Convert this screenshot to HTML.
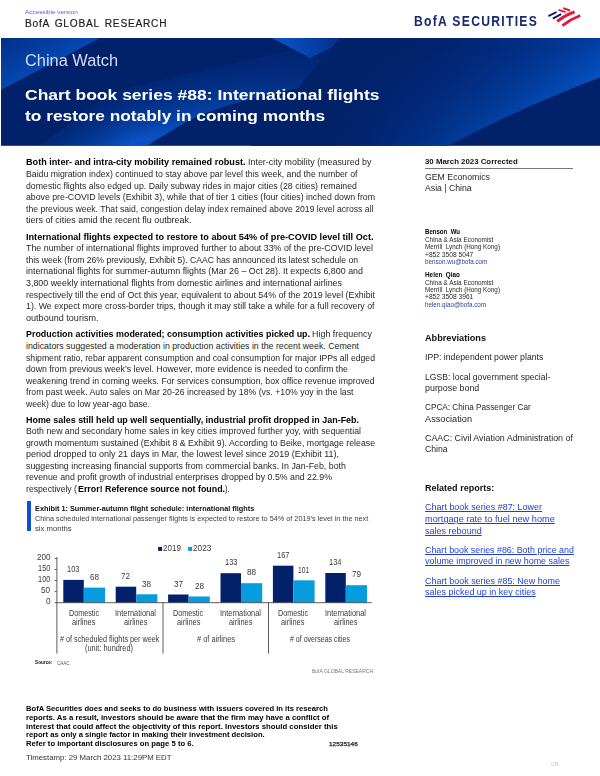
<!DOCTYPE html>
<html><head><meta charset="utf-8"><title>China Watch</title>
<style>
html,body{margin:0;padding:0;background:#fff;}
body{width:600px;height:776px;position:relative;overflow:hidden;font-family:"Liberation Sans",sans-serif;color:#231f20;}
.t{position:absolute;white-space:nowrap;line-height:1;display:block;}
.abs{position:absolute;}
</style></head><body>
<!-- banner -->
<svg class="abs" style="left:0;top:38px" width="600" height="108" viewBox="0 38 600 108">
<defs>
<linearGradient id="gA" gradientUnits="userSpaceOnUse" x1="52" y1="64" x2="26" y2="14"><stop offset="0" stop-color="#0548b2"/><stop offset="1" stop-color="#02297e"/></linearGradient>
<linearGradient id="gV" gradientUnits="userSpaceOnUse" x1="288" y1="50" x2="350" y2="34"><stop offset="0" stop-color="#0a4fc0"/><stop offset="1" stop-color="#02287c"/></linearGradient>
<linearGradient id="gB" gradientUnits="userSpaceOnUse" x1="217" y1="113" x2="196" y2="52"><stop offset="0" stop-color="#0a54c6" stop-opacity="1"/><stop offset="0.5" stop-color="#0642aa" stop-opacity="0.45"/><stop offset="1" stop-color="#0540a8" stop-opacity="0"/></linearGradient>
<linearGradient id="mB" gradientUnits="userSpaceOnUse" x1="40" y1="0" x2="345" y2="0"><stop offset="0" stop-color="#fff" stop-opacity="0.4"/><stop offset="0.3" stop-color="#fff" stop-opacity="1"/><stop offset="0.55" stop-color="#fff" stop-opacity="0.7"/><stop offset="1" stop-color="#fff" stop-opacity="0.05"/></linearGradient>
<mask id="mkB" maskUnits="userSpaceOnUse" x="0" y="38" width="600" height="108"><rect x="0" y="38" width="600" height="108" fill="url(#mB)"/></mask>
<linearGradient id="gR" gradientUnits="userSpaceOnUse" x1="524" y1="108" x2="476" y2="2"><stop offset="0" stop-color="#0450bf" stop-opacity="1"/><stop offset="0.3" stop-color="#0443ad" stop-opacity="0.8"/><stop offset="0.7" stop-color="#03389a" stop-opacity="0.4"/><stop offset="1" stop-color="#012169" stop-opacity="0"/></linearGradient>
<linearGradient id="gR2" gradientUnits="userSpaceOnUse" x1="330" y1="0" x2="600" y2="0"><stop offset="0" stop-color="#012169" stop-opacity="1"/><stop offset="0.5" stop-color="#012169" stop-opacity="0.45"/><stop offset="1" stop-color="#012169" stop-opacity="0"/></linearGradient>
</defs>
<rect x="1" y="38" width="599" height="107.8" fill="#01226b"/>
<polygon points="1,38 100,38 1,90" fill="url(#gA)"/>
<path d="M40,145.8 L147,145.8 L186,122 Q225,102 310,86 L345,72 L300,48 L110,92 Z" fill="url(#gB)" mask="url(#mkB)"/>
<polygon points="272,38 352,38 310,58" fill="url(#gV)"/>
<path d="M250,145.8 L448,145.8 Q524,106 600,77.5 L600,38 L340,38 Z" fill="url(#gR)"/>
<path d="M250,145.8 L448,145.8 Q524,106 600,77.5 L600,38 L340,38 Z" fill="url(#gR2)"/>
</svg>
<!-- logo flag -->
<svg class="abs" style="left:540px;top:0" width="48" height="36" viewBox="540 0 48 36">
<g stroke-linecap="butt" fill="none">
<path d="M548.4,16.1 L556.6,12.0" stroke="#012169" stroke-width="1.9"/>
<path d="M552.8,18.7 L561.2,14.1" stroke="#012169" stroke-width="1.9"/>
<path d="M558.6,9.8 L565.6,12.1" stroke="#e31837" stroke-width="1.9"/>
<path d="M563.2,8.2 L570.0,10.5" stroke="#e31837" stroke-width="1.9"/>
<path d="M557.2,21.3 Q565,15.2 574.6,11.9" stroke="#e31837" stroke-width="2.8"/>
<path d="M562.4,25.7 Q570.5,19.2 580.2,15.5" stroke="#e31837" stroke-width="2.8"/>
</g></svg>
<!-- sidebar rule -->
<div class="abs" style="left:425px;top:167.8px;width:148px;height:1.2px;background:#77787c"></div>
<!-- exhibit bar -->
<div class="abs" style="left:27.2px;top:500.8px;width:3.8px;height:30.4px;background:#0b50d6"></div>
<!-- chart -->
<svg class="abs" style="left:0;top:540px" width="400" height="120" viewBox="0 540 400 120">
<rect x="158.1" y="546.9" width="4" height="4" fill="#03206a"/>
<rect x="188.1" y="546.9" width="4" height="4" fill="#069cde"/>
<rect x="63.3" y="579.9" width="20.5" height="22.8" fill="#03206a"/>
<rect x="83.8" y="587.6" width="21.2" height="15.1" fill="#069cde"/>
<rect x="115.7" y="586.7" width="20.5" height="16.0" fill="#03206a"/>
<rect x="136.2" y="594.3" width="21.2" height="8.4" fill="#069cde"/>
<rect x="168.1" y="594.5" width="20.5" height="8.2" fill="#03206a"/>
<rect x="188.6" y="596.5" width="21.2" height="6.2" fill="#069cde"/>
<rect x="220.5" y="573.2" width="20.5" height="29.5" fill="#03206a"/>
<rect x="241.0" y="583.2" width="21.2" height="19.5" fill="#069cde"/>
<rect x="272.9" y="565.7" width="20.5" height="37.0" fill="#03206a"/>
<rect x="293.4" y="580.3" width="21.2" height="22.4" fill="#069cde"/>
<rect x="325.3" y="573.0" width="20.5" height="29.7" fill="#03206a"/>
<rect x="345.8" y="585.2" width="21.2" height="17.5" fill="#069cde"/>
<g stroke="#4a4a4a" stroke-width="0.9" fill="none">
<path d="M56.9,557 V653.6 M56.9,602.7 H371.7 M163,602.7 V653.6 M268.5,602.7 V653.6"/>
<path d="M54.6,558.4 H56.9 M54.6,569.5 H56.9 M54.6,580.5 H56.9 M54.6,591.6 H56.9 M54.6,602.7 H56.9"/>
</g>
</svg>
<span class="t" style="left:25.20px;transform-origin:0 0;top:8.92px;font-size:6.0px;color:#5a5af0;transform:scaleX(1.0626);">Accessible version</span>
<span class="t" style="left:25.00px;transform-origin:0 0;top:18.54px;font-size:10px;color:#222;transform:scaleX(1.0156);letter-spacing:0.75px;word-spacing:1.6px;-webkit-text-stroke:0.2px #222;">BofA GLOBAL RESEARCH</span>
<span class="t" style="left:413.70px;transform-origin:0 0;top:13.78px;font-size:14.2px;font-weight:700;color:#172a6e;transform:scaleX(0.8562);letter-spacing:1.5px;">BofA SECURITIES</span>
<span class="t" style="left:25.40px;transform-origin:0 0;top:53.09px;font-size:15.6px;color:#d5dcf2;transform:scaleX(1.0496);">China Watch</span>
<span class="t" style="left:25.40px;transform-origin:0 0;top:86.66px;font-size:15.4px;font-weight:700;color:#fff;transform:scaleX(1.1359);">Chart book series #88: International flights</span>
<span class="t" style="left:25.40px;transform-origin:0 0;top:107.66px;font-size:15.4px;font-weight:700;color:#fff;transform:scaleX(1.1252);">to restore notably in coming months</span>
<span class="t" style="left:26.00px;transform-origin:0 0;top:158.45px;font-size:8.8px;font-weight:700;color:#000;transform:scaleX(1.0348);">Both inter- and intra-city mobility remained robust.</span>
<span class="t" style="left:248.00px;transform-origin:0 0;top:158.45px;font-size:8.8px;transform:scaleX(1.0105);">Inter-city mobility (measured by</span>
<span class="t" style="left:26.00px;transform-origin:0 0;top:170.05px;font-size:8.8px;transform:scaleX(0.9925);">Baidu migration index) continued to stay above par level this week, and the number of</span>
<span class="t" style="left:26.00px;transform-origin:0 0;top:181.65px;font-size:8.8px;transform:scaleX(0.9955);">domestic flights also edged up. Daily subway rides in major cities (28 cities) remained</span>
<span class="t" style="left:26.00px;transform-origin:0 0;top:193.25px;font-size:8.8px;transform:scaleX(0.9942);">above pre-COVID levels (Exhibit 3), while that of tier 1 cities (four cities) inched down from</span>
<span class="t" style="left:26.00px;transform-origin:0 0;top:204.85px;font-size:8.8px;transform:scaleX(0.9819);">the previous week. That said, congestion delay index remained above 2019 level across all</span>
<span class="t" style="left:26.00px;transform-origin:0 0;top:216.45px;font-size:8.8px;transform:scaleX(1.0164);">tiers of cities amid the recent flu outbreak.</span>
<span class="t" style="left:26.00px;transform-origin:0 0;top:232.65px;font-size:8.8px;font-weight:700;color:#000;transform:scaleX(1.0393);">International flights expected to restore to about 54% of pre-COVID level till Oct.</span>
<span class="t" style="left:26.00px;transform-origin:0 0;top:244.25px;font-size:8.8px;transform:scaleX(1.0066);">The number of international flights improved further to about 33% of the pre-COVID level</span>
<span class="t" style="left:26.00px;transform-origin:0 0;top:255.85px;font-size:8.8px;transform:scaleX(0.9788);">this week (from 26% previously, Exhibit 5). CAAC has announced its latest schedule on</span>
<span class="t" style="left:26.00px;transform-origin:0 0;top:267.45px;font-size:8.8px;transform:scaleX(1.0106);">international flights for summer-autumn flights (Mar 26 &ndash; Oct 28). It expects 6,800 and</span>
<span class="t" style="left:26.00px;transform-origin:0 0;top:279.05px;font-size:8.8px;transform:scaleX(1.0097);">3,800 weekly international flights from domestic airlines and international airlines</span>
<span class="t" style="left:26.00px;transform-origin:0 0;top:290.65px;font-size:8.8px;transform:scaleX(1.0024);">respectively till the end of Oct this year, equivalent to about 54% of the 2019 level (Exhibit</span>
<span class="t" style="left:26.00px;transform-origin:0 0;top:302.25px;font-size:8.8px;transform:scaleX(0.9988);">1). We expect more cross-border trips, though it may still take a while for a full recovery of</span>
<span class="t" style="left:26.00px;transform-origin:0 0;top:313.85px;font-size:8.8px;transform:scaleX(1.0295);">outbound tourism.</span>
<span class="t" style="left:26.00px;transform-origin:0 0;top:330.45px;font-size:8.8px;font-weight:700;color:#000;transform:scaleX(1.0122);">Production activities moderated; consumption activities picked up.</span>
<span class="t" style="left:312.00px;transform-origin:0 0;top:330.45px;font-size:8.8px;transform:scaleX(1.0140);">High frequency</span>
<span class="t" style="left:26.00px;transform-origin:0 0;top:342.05px;font-size:8.8px;">indicators suggested a moderation in production activities in the recent week. Cement</span>
<span class="t" style="left:26.00px;transform-origin:0 0;top:353.65px;font-size:8.8px;transform:scaleX(0.9844);">shipment ratio, rebar apparent consumption and coal consumption for major IPPs all edged</span>
<span class="t" style="left:26.00px;transform-origin:0 0;top:365.25px;font-size:8.8px;transform:scaleX(0.9922);">down from previous week&rsquo;s level. However, more evidence is needed to confirm the</span>
<span class="t" style="left:26.00px;transform-origin:0 0;top:376.85px;font-size:8.8px;transform:scaleX(0.9890);">weakening trend in coming weeks. For services consumption, box office revenue improved</span>
<span class="t" style="left:26.00px;transform-origin:0 0;top:388.45px;font-size:8.8px;transform:scaleX(0.9915);">from past week. Auto sales on Mar 20-26 increased by 18% (vs. +10% yoy in the last</span>
<span class="t" style="left:26.00px;transform-origin:0 0;top:400.05px;font-size:8.8px;transform:scaleX(0.9753);">week) due to low year-ago base.</span>
<span class="t" style="left:26.00px;transform-origin:0 0;top:415.95px;font-size:8.8px;font-weight:700;color:#000;transform:scaleX(1.0158);">Home sales still held up well sequentially, industrial profit dropped in Jan-Feb.</span>
<span class="t" style="left:26.00px;transform-origin:0 0;top:427.45px;font-size:8.8px;transform:scaleX(0.9934);">Both new and secondary home sales in key cities improved further yoy, with sequential</span>
<span class="t" style="left:26.00px;transform-origin:0 0;top:438.95px;font-size:8.8px;transform:scaleX(0.9955);">growth momentum sustained (Exhibit 8 &amp; Exhibit 9). According to Beike, mortgage release</span>
<span class="t" style="left:26.00px;transform-origin:0 0;top:450.45px;font-size:8.8px;transform:scaleX(1.0230);">period dropped to only 21 days in Mar, the lowest level since 2019 (Exhibit 11),</span>
<span class="t" style="left:26.00px;transform-origin:0 0;top:461.95px;font-size:8.8px;transform:scaleX(1.0053);">suggesting increasing financial supports from commercial banks. In Jan-Feb, both</span>
<span class="t" style="left:26.00px;transform-origin:0 0;top:473.45px;font-size:8.8px;transform:scaleX(0.9980);">revenue and profit growth of industrial enterprises dropped by 0.5% and 22.9%</span>
<span class="t" style="left:26.00px;transform-origin:0 0;top:484.95px;font-size:8.8px;transform:scaleX(0.9840);">respectively (</span>
<span class="t" style="left:77.50px;transform-origin:0 0;top:484.95px;font-size:8.8px;font-weight:700;color:#000;transform:scaleX(1.0058);">Error! Reference source not found.</span>
<span class="t" style="left:224.80px;transform-origin:0 0;top:484.95px;font-size:8.8px;transform:scaleX(0.8744);">).</span>
<span class="t" style="left:425.00px;transform-origin:0 0;top:157.53px;font-size:8.0px;font-weight:700;color:#111;transform:scaleX(0.9787);">30 March 2023 Corrected</span>
<span class="t" style="left:425.00px;transform-origin:0 0;top:172.55px;font-size:8.8px;transform:scaleX(0.9921);">GEM Economics</span>
<span class="t" style="left:425.00px;transform-origin:0 0;top:183.75px;font-size:8.8px;transform:scaleX(0.9877);">Asia | China</span>
<span class="t" style="left:425.00px;transform-origin:0 0;top:229.28px;font-size:6.4px;font-weight:700;color:#000;transform:scaleX(0.9508);">Benson&nbsp; Wu</span>
<span class="t" style="left:425.00px;transform-origin:0 0;top:236.78px;font-size:6.4px;transform:scaleX(1.0014);">China &amp; Asia Economist</span>
<span class="t" style="left:425.00px;transform-origin:0 0;top:244.28px;font-size:6.4px;transform:scaleX(0.9897);">Merrill&nbsp; Lynch (Hong Kong)</span>
<span class="t" style="left:425.00px;transform-origin:0 0;top:251.58px;font-size:6.4px;transform:scaleX(1.0412);">+852 3508 5047</span>
<span class="t" style="left:425.00px;transform-origin:0 0;top:258.88px;font-size:6.4px;color:#2a3f9a;transform:scaleX(0.9782);">benson.wu@bofa.com</span>
<span class="t" style="left:425.00px;transform-origin:0 0;top:272.28px;font-size:6.4px;font-weight:700;color:#000;transform:scaleX(0.9951);">Helen&nbsp; Qiao</span>
<span class="t" style="left:425.00px;transform-origin:0 0;top:279.58px;font-size:6.4px;transform:scaleX(1.0014);">China &amp; Asia Economist</span>
<span class="t" style="left:425.00px;transform-origin:0 0;top:287.08px;font-size:6.4px;transform:scaleX(0.9897);">Merrill&nbsp; Lynch (Hong Kong)</span>
<span class="t" style="left:425.00px;transform-origin:0 0;top:294.38px;font-size:6.4px;transform:scaleX(1.0412);">+852 3508 3961</span>
<span class="t" style="left:425.00px;transform-origin:0 0;top:301.58px;font-size:6.4px;color:#2a3f9a;transform:scaleX(0.9794);">helen.qiao@bofa.com</span>
<span class="t" style="left:425.00px;transform-origin:0 0;top:334.11px;font-size:9.2px;font-weight:700;color:#111;transform:scaleX(0.9957);">Abbreviations</span>
<span class="t" style="left:425.00px;transform-origin:0 0;top:353.22px;font-size:8.6px;transform:scaleX(1.0106);">IPP: independent power plants</span>
<span class="t" style="left:425.00px;transform-origin:0 0;top:372.62px;font-size:8.6px;transform:scaleX(1.0011);">LGSB: local government special-</span>
<span class="t" style="left:425.00px;transform-origin:0 0;top:384.12px;font-size:8.6px;transform:scaleX(1.0331);">purpose bond</span>
<span class="t" style="left:425.00px;transform-origin:0 0;top:403.22px;font-size:8.6px;transform:scaleX(0.9548);">CPCA: China Passenger Car</span>
<span class="t" style="left:425.00px;transform-origin:0 0;top:414.72px;font-size:8.6px;transform:scaleX(1.0693);">Association</span>
<span class="t" style="left:425.00px;transform-origin:0 0;top:433.92px;font-size:8.6px;transform:scaleX(1.0332);">CAAC: Civil Aviation Administration of</span>
<span class="t" style="left:425.00px;transform-origin:0 0;top:445.42px;font-size:8.6px;transform:scaleX(1.0103);">China</span>
<span class="t" style="left:425.00px;transform-origin:0 0;top:484.25px;font-size:8.8px;font-weight:700;color:#111;transform:scaleX(1.0271);">Related reports:</span>
<span class="t" style="left:425.00px;transform-origin:0 0;top:503.42px;font-size:8.6px;color:#1f3fd6;transform:scaleX(1.0422);text-decoration:underline;">Chart book series #87: Lower</span>
<span class="t" style="left:425.00px;transform-origin:0 0;top:515.02px;font-size:8.6px;color:#1f3fd6;transform:scaleX(1.0697);text-decoration:underline;">mortgage rate to fuel new home</span>
<span class="t" style="left:425.00px;transform-origin:0 0;top:526.52px;font-size:8.6px;color:#1f3fd6;transform:scaleX(1.0500);text-decoration:underline;">sales rebound</span>
<span class="t" style="left:425.00px;transform-origin:0 0;top:545.92px;font-size:8.6px;color:#1f3fd6;transform:scaleX(1.0320);text-decoration:underline;">Chart book series #86: Both price and</span>
<span class="t" style="left:425.00px;transform-origin:0 0;top:557.42px;font-size:8.6px;color:#1f3fd6;transform:scaleX(1.0388);text-decoration:underline;">volume improved in new home sales</span>
<span class="t" style="left:425.00px;transform-origin:0 0;top:576.92px;font-size:8.6px;color:#1f3fd6;transform:scaleX(1.0390);text-decoration:underline;">Chart book series #85: New home</span>
<span class="t" style="left:425.00px;transform-origin:0 0;top:588.42px;font-size:8.6px;color:#1f3fd6;transform:scaleX(1.0439);text-decoration:underline;">sales picked up in key cities</span>
<span class="t" style="left:35.00px;transform-origin:0 0;top:504.74px;font-size:7.4px;font-weight:700;color:#111;transform:scaleX(0.9908);">Exhibit 1: Summer-autumn flight schedule: international flights</span>
<span class="t" style="left:35.00px;transform-origin:0 0;top:514.91px;font-size:7.2px;color:#3a3a44;transform:scaleX(1.0127);">China scheduled international passenger flights is expected to restore to 54% of 2019&rsquo;s level in the next</span>
<span class="t" style="left:35.00px;transform-origin:0 0;top:524.61px;font-size:7.2px;color:#3a3a44;transform:scaleX(1.0681);">six months</span>
<span class="t" style="left:163.30px;transform-origin:0 0;top:543.93px;font-size:9.3px;color:#3a3a3a;transform:scaleX(0.8653);">2019</span>
<span class="t" style="left:193.40px;transform-origin:0 0;top:543.93px;font-size:9.3px;color:#3a3a3a;transform:scaleX(0.8894);">2023</span>
<span class="t" style="left:36.55px;transform-origin:0 0;top:553.03px;font-size:9.3px;color:#3a3a3a;transform:scaleX(0.8798);">200</span>
<span class="t" style="left:37.80px;transform-origin:0 0;top:564.13px;font-size:9.3px;color:#3a3a3a;transform:scaleX(0.7992);">150</span>
<span class="t" style="left:37.80px;transform-origin:0 0;top:575.23px;font-size:9.3px;color:#3a3a3a;transform:scaleX(0.7992);">100</span>
<span class="t" style="left:41.10px;transform-origin:0 0;top:586.33px;font-size:9.3px;color:#3a3a3a;transform:scaleX(0.8798);">50</span>
<span class="t" style="left:45.65px;transform-origin:0 0;top:597.33px;font-size:9.3px;color:#3a3a3a;transform:scaleX(0.8798);">0</span>
<span class="t" style="left:67.40px;transform-origin:0 0;top:565.09px;font-size:9.3px;color:#3a3a3a;transform:scaleX(0.7992);">103</span>
<span class="t" style="left:89.75px;transform-origin:0 0;top:572.85px;font-size:9.3px;color:#3a3a3a;transform:scaleX(0.8798);">68</span>
<span class="t" style="left:68.50px;transform-origin:0 0;top:608.55px;font-size:8.8px;color:#3a3a3a;transform:scaleX(0.8181);">Domestic</span>
<span class="t" style="left:71.80px;transform-origin:0 0;top:618.25px;font-size:8.8px;color:#3a3a3a;transform:scaleX(0.8395);">airlines</span>
<span class="t" style="left:121.45px;transform-origin:0 0;top:571.97px;font-size:9.3px;color:#3a3a3a;transform:scaleX(0.8798);">72</span>
<span class="t" style="left:142.15px;transform-origin:0 0;top:579.50px;font-size:9.3px;color:#3a3a3a;transform:scaleX(0.8798);">38</span>
<span class="t" style="left:115.40px;transform-origin:0 0;top:608.55px;font-size:8.8px;color:#3a3a3a;transform:scaleX(0.8467);">International</span>
<span class="t" style="left:124.20px;transform-origin:0 0;top:618.25px;font-size:8.8px;color:#3a3a3a;transform:scaleX(0.8395);">airlines</span>
<span class="t" style="left:173.85px;transform-origin:0 0;top:579.72px;font-size:9.3px;color:#3a3a3a;transform:scaleX(0.8798);">37</span>
<span class="t" style="left:194.55px;transform-origin:0 0;top:581.72px;font-size:9.3px;color:#3a3a3a;transform:scaleX(0.8798);">28</span>
<span class="t" style="left:173.30px;transform-origin:0 0;top:608.55px;font-size:8.8px;color:#3a3a3a;transform:scaleX(0.8181);">Domestic</span>
<span class="t" style="left:176.60px;transform-origin:0 0;top:618.25px;font-size:8.8px;color:#3a3a3a;transform:scaleX(0.8395);">airlines</span>
<span class="t" style="left:224.60px;transform-origin:0 0;top:558.44px;font-size:9.3px;color:#3a3a3a;transform:scaleX(0.7992);">133</span>
<span class="t" style="left:246.95px;transform-origin:0 0;top:568.42px;font-size:9.3px;color:#3a3a3a;transform:scaleX(0.8798);">88</span>
<span class="t" style="left:220.20px;transform-origin:0 0;top:608.55px;font-size:8.8px;color:#3a3a3a;transform:scaleX(0.8467);">International</span>
<span class="t" style="left:229.00px;transform-origin:0 0;top:618.25px;font-size:8.8px;color:#3a3a3a;transform:scaleX(0.8395);">airlines</span>
<span class="t" style="left:277.00px;transform-origin:0 0;top:550.90px;font-size:9.3px;color:#3a3a3a;transform:scaleX(0.7992);">167</span>
<span class="t" style="left:298.32px;transform-origin:0 0;top:565.54px;font-size:9.3px;color:#3a3a3a;transform:scaleX(0.7186);">101</span>
<span class="t" style="left:278.10px;transform-origin:0 0;top:608.55px;font-size:8.8px;color:#3a3a3a;transform:scaleX(0.8181);">Domestic</span>
<span class="t" style="left:281.40px;transform-origin:0 0;top:618.25px;font-size:8.8px;color:#3a3a3a;transform:scaleX(0.8395);">airlines</span>
<span class="t" style="left:329.40px;transform-origin:0 0;top:558.22px;font-size:9.3px;color:#3a3a3a;transform:scaleX(0.7992);">134</span>
<span class="t" style="left:351.75px;transform-origin:0 0;top:570.41px;font-size:9.3px;color:#3a3a3a;transform:scaleX(0.8798);">79</span>
<span class="t" style="left:325.00px;transform-origin:0 0;top:608.55px;font-size:8.8px;color:#3a3a3a;transform:scaleX(0.8467);">International</span>
<span class="t" style="left:333.80px;transform-origin:0 0;top:618.25px;font-size:8.8px;color:#3a3a3a;transform:scaleX(0.8395);">airlines</span>
<span class="t" style="left:60.00px;transform-origin:0 0;top:634.55px;font-size:8.8px;color:#3a3a3a;transform:scaleX(0.8229);"># of scheduled flights per week</span>
<span class="t" style="left:85.00px;transform-origin:0 0;top:643.75px;font-size:8.8px;color:#3a3a3a;transform:scaleX(0.8389);">(unit: hundred)</span>
<span class="t" style="left:196.50px;transform-origin:0 0;top:634.55px;font-size:8.8px;color:#3a3a3a;transform:scaleX(0.8444);"># of airlines</span>
<span class="t" style="left:290.00px;transform-origin:0 0;top:634.55px;font-size:8.8px;color:#3a3a3a;transform:scaleX(0.7967);"># of overseas cities</span>
<span class="t" style="left:35.00px;transform-origin:0 0;top:659.76px;font-size:5.6px;font-weight:700;color:#111;transform:scaleX(0.8402);">Source:</span>
<span class="t" style="left:57.00px;transform-origin:0 0;top:659.52px;font-size:6px;color:#555;transform:scaleX(0.7438);">CAAC</span>
<span class="t" style="left:311.70px;transform-origin:0 0;top:668.86px;font-size:5.6px;color:#777;transform:scaleX(0.8946);">BofA GLOBAL RESEARCH</span>
<span class="t" style="left:25.80px;transform-origin:0 0;top:705.07px;font-size:7.6px;font-weight:700;color:#000;transform:scaleX(1.0011);">BofA Securities does and seeks to do business with issuers covered in its research</span>
<span class="t" style="left:25.80px;transform-origin:0 0;top:713.87px;font-size:7.6px;font-weight:700;color:#000;transform:scaleX(1.0244);">reports. As a result, investors should be aware that the firm may have a conflict of</span>
<span class="t" style="left:25.80px;transform-origin:0 0;top:722.67px;font-size:7.6px;font-weight:700;color:#000;transform:scaleX(1.0232);">interest that could affect the objectivity of this report. Investors should consider this</span>
<span class="t" style="left:25.80px;transform-origin:0 0;top:731.47px;font-size:7.6px;font-weight:700;color:#000;transform:scaleX(1.0065);">report as only a single factor in making their investment decision.</span>
<span class="t" style="left:25.80px;transform-origin:0 0;top:740.27px;font-size:7.6px;font-weight:700;color:#000;transform:scaleX(1.0139);">Refer to important disclosures on page 5 to 6.</span>
<span class="t" style="left:329.20px;transform-origin:0 0;top:742.09px;font-size:5.8px;color:#222;transform:scaleX(1.1164);-webkit-text-stroke:0.25px #222;">12535146</span>
<span class="t" style="left:26.00px;transform-origin:0 0;top:754.35px;font-size:7.5px;color:#333;transform:scaleX(1.0420);">Timestamp: 29 March 2023 11:29PM EDT</span>
<span class="t" style="left:551.00px;transform-origin:0 0;top:761.22px;font-size:6px;color:#c4c4c4;transform:scaleX(0.8879);font-family:"Liberation Serif",serif;">CR</span>
</body></html>
